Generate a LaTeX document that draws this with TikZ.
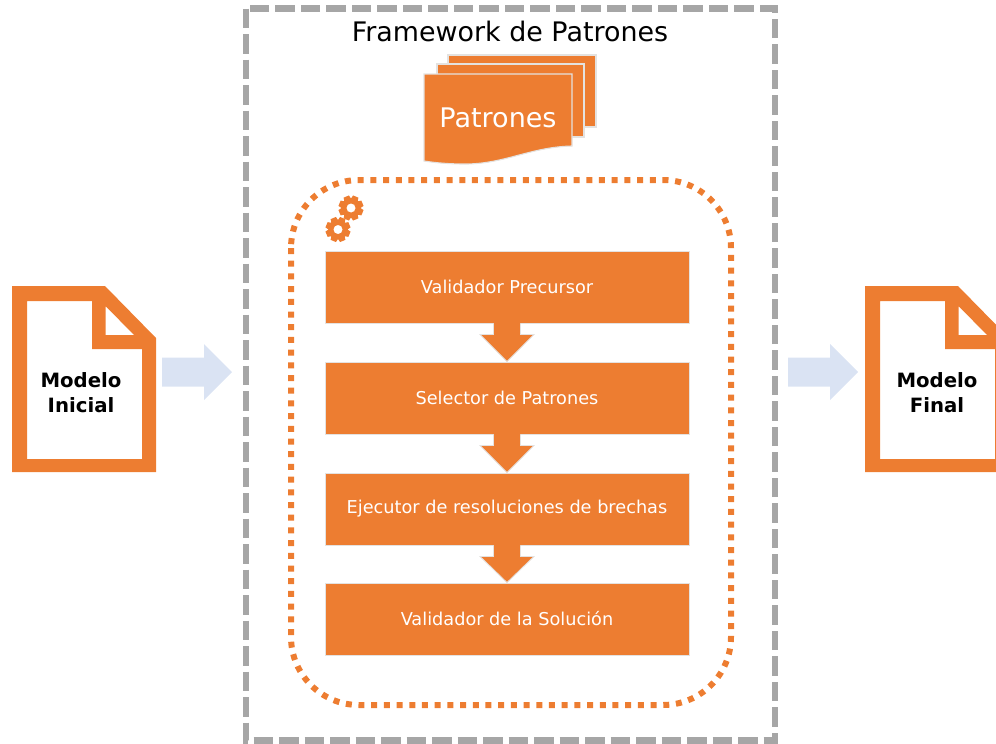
\documentclass[tikz,border=0pt]{standalone}
\usepackage{fontspec}
\setmainfont{DejaVu Sans}
\usetikzlibrary{calc}
\definecolor{orangeA}{HTML}{ED7D31}
\definecolor{blueA}{HTML}{DAE3F3}
\definecolor{greyA}{HTML}{A6A6A6}
\definecolor{edgeA}{HTML}{E4E2E0}
\tikzset{
  x=1pt,y=-1pt,
  procbox/.style={rectangle,fill=orangeA,draw=edgeA,line width=0.9pt,minimum width=364pt,minimum height=72pt,inner sep=0pt,text=white,font=\fontsize{17.7}{20}\selectfont},
  flowarrow/.style={fill=orangeA,draw=edgeA,line width=0.9pt,line join=miter},
  sheet/.style={fill=orangeA,draw=edgeA,line width=1.1pt},
  bigarrow/.style={fill=blueA,draw=none},
  doctext/.style={font=\fontsize{19.7}{25}\selectfont\bfseries,align=center,text=black,inner sep=0pt},
}
\newcommand{\docicon}[1]{%
  \begin{scope}[xshift=#1]
    \fill[orangeA,even odd rule] (12,286) -- (105,286) -- (156,338) -- (156,472) -- (12,472) -- cycle
      (27,301) -- (92,301) -- (92,349) -- (142,349) -- (142,459) -- (27,459) -- cycle
      (105.5,306) -- (134,335) -- (105.5,335) -- cycle;
  \end{scope}}
\newcommand{\gearicon}[2]{%
  \begin{scope}[shift={(#1,#2)}]
    \foreach \a in {0,45,...,315}
      \fill[orangeA,rotate=\a+22.5] (-2.9,-12.4) -- (2.9,-12.4) -- (3.9,-7) -- (-3.9,-7) -- cycle;
    \fill[orangeA,even odd rule] (0,0) circle (9.8) (0,0) circle (4.6);
  \end{scope}}
\begin{document}
\begin{tikzpicture}
\useasboundingbox (0,0) rectangle (996,744);
\clip (0,0) rectangle (996,744);
% outer frame
\draw[greyA,line width=6.5pt,dash pattern=on 19.5pt off 6pt] (246,8.5) rectangle (775,740.5);
\node[font=\fontsize{26.9}{30}\selectfont,text=black,inner sep=0pt] (title) at (510,31) {Framework de Patrones};
% pattern sheets
\draw[sheet] (448,55) rectangle (596,127);
\draw[sheet] (437,64) rectangle (584,137);
\draw[sheet] (424,74) -- (572,74) -- (572,146) .. controls (530,147) and (505,164) .. (465,164) .. controls (450,164) and (437,163) .. (424,161) -- cycle;
\node[font=\fontsize{27}{30}\selectfont,text=white,inner sep=0pt] (pat) at (498,118) {Patrones};
% dotted frame
\draw[orangeA,line width=6pt,dash pattern=on 6pt off 6.7pt,rounded corners=68pt] (291,180) rectangle (731,705);
% gears
\gearicon{351}{208}
\gearicon{338}{229.5}
% process
\node[procbox] (b1) at (507,287) {Validador Precursor};
\node[procbox] (b2) at (507,398) {Selector de Patrones};
\node[procbox] (b3) at (507,509) {Ejecutor de resoluciones de brechas};
\node[procbox] (b4) at (507,619) {Validador de la Solución};
\foreach \p/\q in {b1/b2,b2/b3,b3/b4}{
  \draw[flowarrow] ($(\p.south)+(-13.5,0)$) -- ($(\p.south)+(-13.5,11)$) -- ($(\p.south)+(-27,11)$) -- (\q.north) -- ($(\p.south)+(27,11)$) -- ($(\p.south)+(13.5,11)$) -- ($(\p.south)+(13.5,0)$);
  \fill[orangeA] ($(\p.south)+(-13,-1)$) rectangle ($(\p.south)+(13,12)$);
}
% documents
\docicon{0}
\docicon{853}
\node[doctext] (ini) at (81,393) {Modelo\\Inicial};
\node[doctext] (fin) at (937,393) {Modelo\\Final};
% big arrows
\coordinate (la) at (162,372);
\coordinate (ra) at (788,372);
\foreach \c in {la,ra}
  \fill[bigarrow] ($(\c)+(0,-14.5)$) -- ($(\c)+(42,-14.5)$) -- ($(\c)+(42,-28)$) -- ($(\c)+(70,0)$) -- ($(\c)+(42,28)$) -- ($(\c)+(42,14.5)$) -- ($(\c)+(0,14.5)$) -- cycle;
\end{tikzpicture}
\end{document}
